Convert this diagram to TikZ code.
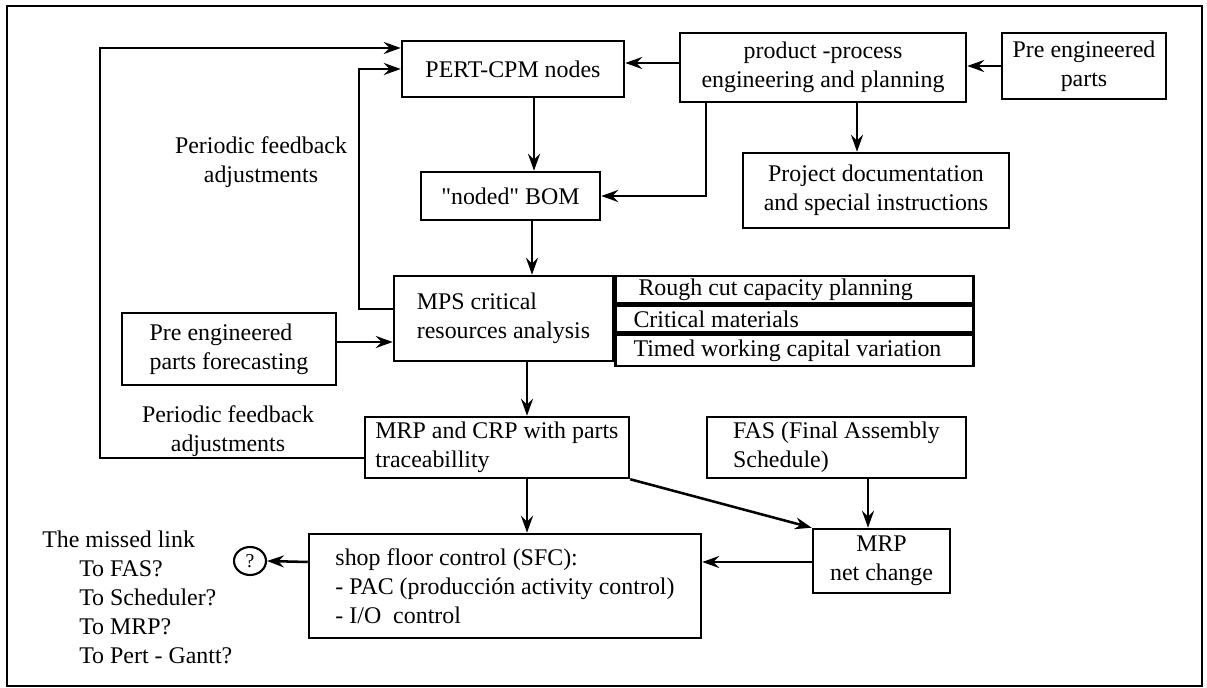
\documentclass[tikz,border=0pt]{standalone}
\usepackage{fontspec}
\setmainfont{Liberation Serif}
\usetikzlibrary{arrows.meta,shapes.geometric}
\newdimen\px \px=0.025cm

\begin{document}
\begin{tikzpicture}[x=0.025cm, y=-0.025cm,
          every node/.style={font=\fontsize{17}{20.5}\selectfont},
          block/.style={draw, line width=1.8pt, inner sep=0pt, align=center},
          rowbox/.style={draw, line width=1.8pt, inner sep=0pt, minimum width=358\px},
          flow/.style={-{Stealth[length=12pt, width=8.5pt, inset=4pt]}, line width=1.8pt}
      ]
        \useasboundingbox (0,0) rectangle (1207,688);
        \draw[line width=1.8pt] (7,6) rectangle (1202,686);
        \node[block, minimum width=222\px, minimum height=56\px] (pert) at (513,69) {PERT-CPM nodes};
        \node[block, minimum width=286\px, minimum height=69\px] (proc) at (823,67.5) {product -process\\engineering and planning};
        \node[block, minimum width=164\px, minimum height=66\px] (preeng) at (1084,66) {Pre engineered\\parts};
        \node[block, minimum width=266\px, minimum height=75\px] (projdoc) at (876,190.5) {Project documentation\\and special instructions};
        \node[block, minimum width=179\px, minimum height=48\px] (bom) at (510.5,196) {\textquotedbl noded\textquotedbl\ BOM};
        \node[block, align=left, minimum width=219\px, minimum height=85\px] (mps) at (503.5,318.5) {MPS critical\\resources analysis};
        \node[rowbox, minimum height=27\px, anchor=north west] (rough) at (mps.north east)
              {\makebox[322\px][l]{\hspace*{5\px}Rough cut capacity planning}};
        \node[rowbox, minimum height=27\px, anchor=north west] (crit) at (rough.south west)
              {\makebox[322\px][l]{Critical materials}};
        \node[rowbox, minimum height=31\px, anchor=north west] (timed) at (crit.south west)
              {\makebox[322\px][l]{Timed working capital variation}};
        \node[block, align=left, minimum width=214\px, minimum height=72\px] (forecast) at (229,349) {Pre engineered\\parts forecasting};
        \node[block, align=left, minimum width=264\px, minimum height=61\px] (mrp) at (497,447.5) {MRP and CRP with parts\\traceabillity};
        \node[block, align=left, minimum width=259\px, minimum height=61\px] (fas) at (836.5,447.5) {FAS (Final Assembly\\Schedule)};
        \node[block, minimum width=137\px, minimum height=64\px] (mrpnet) at (881.5,561) {MRP\\net change};
        \node[block, align=left, minimum width=392\px, minimum height=104\px] (sfc) at (505,586) {shop floor control (SFC):\\- PAC (producción activity control)\\- I/O\ \ control};
        \node[draw, ellipse, line width=1.5pt, inner sep=0pt, minimum width=32\px, minimum height=28\px,
              font=\fontsize{14}{16}\selectfont] (ask) at (250,561) {?};
        \node[align=left, anchor=north west, inner sep=0pt] (missed) at (42,531)
              {The missed link\\\hspace*{37\px}To FAS?\\\hspace*{37\px}To Scheduler?\\\hspace*{37\px}To MRP?\\\hspace*{37\px}To Pert - Gantt?};
        \node[align=center] (fb1) at (261,162) {Periodic feedback\\adjustments};
        \node[align=center] (fb2) at (228,431) {Periodic feedback\\adjustments};
        \draw[flow] (preeng.west) -- (preeng.west -| proc.east);
        \draw[flow] (proc.west |- 0,63) -- (pert.east |- 0,63);
        \draw[flow] (857,0 |- proc.south) -- (857,0 |- projdoc.north);
        \draw[flow] (706,0 |- proc.south) |- (bom.east);
        \draw[flow] (534,0 |- pert.south) -- (534,0 |- bom.north);
        \draw[flow] (532,0 |- bom.south) -- (532,0 |- mps.north);
        \draw[flow] (forecast.east |- 0,342) -- (mps.west |- 0,342);
        \draw[flow] (mps.west |- 0,309) -- (359,309) |- (pert.west);
        \draw[flow] (mrp.west |- 0,458) -- (100,458) |- (pert.west |- 0,48);
        \draw[flow] (527,0 |- mps.south) -- (527,0 |- mrp.north);
        \draw[flow] (527,0 |- mrp.south) -- (527,0 |- sfc.north);
        \draw[flow] (mrp.south east) -- (mrpnet.north west);
        \draw[flow] (868,0 |- fas.south) -- (868,0 |- mrpnet.north);
        \draw[flow] (mrpnet.west |- 0,562) -- (sfc.east |- 0,562);
        \draw[flow] (sfc.west |- 0,562) -- (ask.east);
      \end{tikzpicture}
\end{document}
